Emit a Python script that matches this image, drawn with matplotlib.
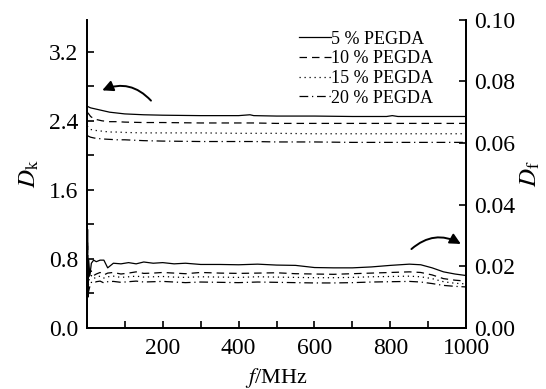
import numpy as np
import matplotlib
matplotlib.use('Agg')
import matplotlib.pyplot as plt
from matplotlib.patches import FancyArrowPatch
from matplotlib.ticker import MultipleLocator

plt.rcParams['font.family'] = 'Liberation Serif'
plt.rcParams['mathtext.fontset'] = 'stix'

labels = ['5 % PEGDA', '10 % PEGDA', '15 % PEGDA', '20 % PEGDA']
styles = ['-', (0, (6, 4)), (0, (1, 3)), (0, (7, 3, 1, 3))]

# dielectric constant (left axis)
f_dk = [1, 5, 10, 20, 40, 60, 80, 100, 150, 200, 300, 400, 430, 440, 500,
        600, 700, 790, 805, 820, 900, 1000]
dk5 = [2.57, 2.56, 2.55, 2.54, 2.52, 2.50, 2.49, 2.48, 2.47, 2.465, 2.46,
       2.46, 2.47, 2.46, 2.455, 2.455, 2.45, 2.45, 2.46, 2.45, 2.45, 2.45]
dk10 = [2.50, 2.48, 2.45, 2.42, 2.40, 2.39, 2.39, 2.385, 2.38, 2.38, 2.375,
        2.375, 2.375, 2.375, 2.37, 2.37, 2.37, 2.37, 2.37, 2.37, 2.37, 2.37]
dk15 = [2.34, 2.32, 2.30, 2.29, 2.28, 2.27, 2.27, 2.265, 2.26, 2.26, 2.26,
        2.255, 2.255, 2.255, 2.255, 2.25, 2.25, 2.25, 2.25, 2.25, 2.25, 2.25]
dk20 = [2.23, 2.22, 2.21, 2.20, 2.19, 2.185, 2.18, 2.18, 2.17, 2.165, 2.16,
        2.16, 2.16, 2.16, 2.155, 2.155, 2.15, 2.15, 2.15, 2.15, 2.15, 2.15]

# dielectric loss (right axis)
f_df = [1, 2, 3, 5, 8, 12, 18, 25, 35, 45, 55, 70, 90, 110, 130, 150, 175,
        200, 230, 260, 300, 350, 400, 450, 500, 550, 600, 650, 700, 750, 800,
        850, 880, 910, 940, 970, 1000]
df5 = [0.012, 0.032, 0.010, 0.022, 0.017, 0.021, 0.022, 0.0215, 0.022, 0.022,
       0.0195, 0.021, 0.0208, 0.0212, 0.0208, 0.0214, 0.021, 0.0212, 0.0208,
       0.021, 0.0206, 0.0206, 0.0205, 0.0207, 0.0204, 0.0203, 0.0196, 0.0195,
       0.0195, 0.0198, 0.0203, 0.0207, 0.0205, 0.0195, 0.0182, 0.0175, 0.017]
df10 = [0.008, 0.028, 0.014, 0.016, 0.018, 0.0185, 0.017, 0.0175, 0.018,
        0.0172, 0.0178, 0.018, 0.0175, 0.0178, 0.0182, 0.0177, 0.0178, 0.018,
        0.0178, 0.0176, 0.018, 0.0178, 0.0177, 0.0178, 0.0179, 0.0176, 0.0175,
        0.0174, 0.0176, 0.0178, 0.018, 0.0182, 0.018, 0.0172, 0.016, 0.0155,
        0.0152]
df15 = [0.007, 0.024, 0.012, 0.015, 0.0165, 0.017, 0.016, 0.0165, 0.0168,
        0.0162, 0.0166, 0.0168, 0.0164, 0.0166, 0.0168, 0.0165, 0.0166, 0.0167,
        0.0165, 0.0164, 0.0166, 0.0165, 0.0164, 0.0166, 0.0165, 0.0164, 0.0163,
        0.0163, 0.0164, 0.0166, 0.0167, 0.0168, 0.0166, 0.016, 0.015, 0.0145,
        0.0143]
df20 = [0.006, 0.020, 0.011, 0.012, 0.0135, 0.0148, 0.0145, 0.015, 0.0152,
        0.0146, 0.015, 0.0151, 0.0148, 0.015, 0.0152, 0.0149, 0.015, 0.0151,
        0.0149, 0.0147, 0.0149, 0.0148, 0.0147, 0.0149, 0.0148, 0.0147, 0.0146,
        0.0146, 0.0147, 0.0149, 0.015, 0.0151, 0.0149, 0.0144, 0.0138, 0.0135,
        0.0133]

fig = plt.figure(figsize=(5.46, 3.89), dpi=100)
ax = fig.add_axes([0.159, 0.157, 0.695, 0.792])
ax2 = ax.twinx()

for y, ls, lab in zip([dk5, dk10, dk15, dk20], styles, labels):
    ax.plot(f_dk, y, color='black', lw=0.9, linestyle=ls, label=lab)
for y, ls in zip([df5, df10, df15, df20], styles):
    ax2.plot(f_df, y, color='black', lw=0.9, linestyle=ls)

ax.set_xlim(0, 1000)
ax.set_ylim(0, 3.57)
ax2.set_ylim(0, 0.1)

ax.set_xticks([200, 400, 600, 800, 1000])
ax.xaxis.set_minor_locator(MultipleLocator(100))
ax.set_yticks([0.0, 0.8, 1.6, 2.4, 3.2])
ax.yaxis.set_minor_locator(MultipleLocator(0.4))
ax.set_yticklabels(['0.0', '0.8', '1.6', '2.4', '3.2'])
ax2.set_yticks([0.0, 0.02, 0.04, 0.06, 0.08, 0.10])
ax2.set_yticklabels(['0.00', '0.02', '0.04', '0.06', '0.08', '0.10'])

for a in (ax, ax2):
    a.spines['top'].set_visible(False)
    a.tick_params(which='both', direction='in', labelsize=17, width=1.2,
                  length=5)
    for s in a.spines.values():
        s.set_linewidth(1.3)
ax.tick_params(axis='y', which='both', right=False, pad=6)
ax.tick_params(axis='x', pad=7)
ax2.tick_params(axis='y', which='both', left=False, pad=6)

ax.set_xlabel(r'$f$/MHz', fontsize=16, labelpad=5)
ax.set_ylabel(r'$D_{\rm k}$', fontsize=18, labelpad=6)
ax2.set_ylabel(r'$D_{\rm f}$', fontsize=18, labelpad=2)

ax.legend(loc='upper left', bbox_to_anchor=(0.53, 1.0), frameon=False,
          fontsize=13, handlelength=1.8, handletextpad=0.0,
          labelspacing=0.15, borderaxespad=0.2)

# curved arrows pointing at each axis
arr1 = FancyArrowPatch((174, 2.61), (34, 2.74), transform=ax.transData,
                       connectionstyle='arc3,rad=0.38', arrowstyle='-|>',
                       mutation_scale=16, color='black', lw=1.4)
ax.add_patch(arr1)
arr2 = FancyArrowPatch((850, 0.025), (992, 0.0268), transform=ax2.transData,
                       connectionstyle='arc3,rad=-0.38', arrowstyle='-|>',
                       mutation_scale=16, color='black', lw=1.4)
ax2.add_patch(arr2)

fig.savefig('out.png', dpi=100)
